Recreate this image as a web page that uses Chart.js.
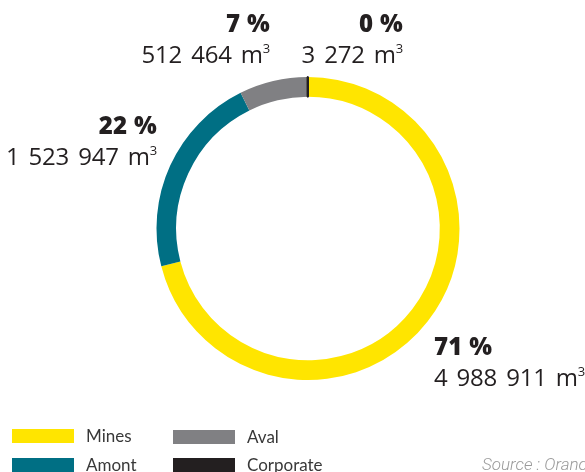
<!DOCTYPE html>
<html>
<head>
<meta charset="utf-8">
<script src="https://cdn.jsdelivr.net/npm/chart.js@4"></script>
<style>
  html, body { margin: 0; padding: 0; background: #ffffff; }
  #wrap { position: relative; width: 585px; height: 472px; overflow: hidden; }
  #c { position: absolute; left: 0; top: 0; }
  .lbl { position: absolute; color: #231F20; font-family: "Open Sans", sans-serif; white-space: nowrap; }
  .pct { font-weight: 800; font-size: 24px; line-height: 26px; letter-spacing: 0.3px; }
  .val { font-weight: 500; font-size: 24px; line-height: 26px; margin-top: 5px; word-spacing: 3px; letter-spacing: -0.2px; }
  .val sup { font-size: 13px; vertical-align: 10px; line-height: 0; }
  .leg { position: absolute; font-family: Lato, sans-serif; font-weight: 400; font-size: 17px; line-height: 20px; color: #383838; white-space: nowrap; }
  .sw { position: absolute; width: 62px; height: 14px; }
  #src { position: absolute; left: 482px; top: 454px; font-family: Roboto, sans-serif; font-weight: 300; font-style: italic; font-size: 17px; line-height: 20px; color: #9a9a9a; white-space: nowrap; }
</style>
</head>
<body>
<div id="wrap">
  <canvas id="c" width="585" height="472"></canvas>
</div>
<script>
const categories = ['Mines', 'Amont', 'Aval', 'Corporate'];
const volumes = [4988911, 1523947, 512464, 3272];
const colors = ['#FFE500', '#006F84', '#808083', '#231F20'];
const unit = 'm';
const sourceText = 'Source : Orano';

const total = volumes.reduce((a, b) => a + b, 0);
const fmt = v => String(v).replace(/\B(?=(\d{3})+(?!\d))/g, ' ');

new Chart(document.getElementById('c'), {
  type: 'doughnut',
  data: {
    labels: categories,
    datasets: [{
      data: volumes,
      backgroundColor: colors,
      borderColor: colors,
      borderWidth: [0, 0, 0, 2],
      hoverOffset: 0
    }]
  },
  options: {
    responsive: false,
    animation: false,
    cutout: '87%',
    rotation: 0,
    layout: { padding: { left: 155, right: 124, top: 76, bottom: 91 } },
    plugins: { legend: { display: false }, tooltip: { enabled: false } }
  }
});

const wrap = document.getElementById('wrap');
const labelPlaces = [
  { side: 'left',  x: 434, y: 333 },   // Mines
  { side: 'right', x: 157, y: 112 },   // Amont
  { side: 'right', x: 270, y: 10 },    // Aval
  { side: 'right', x: 403, y: 10 }     // Corporate
];
categories.forEach((cat, i) => {
  const p = labelPlaces[i];
  const d = document.createElement('div');
  d.className = 'lbl';
  d.style.top = p.y + 'px';
  d.style.textAlign = p.side;
  if (p.side === 'left') d.style.left = p.x + 'px';
  else d.style.right = (585 - p.x) + 'px';
  const pct = Math.round(volumes[i] / total * 100);
  d.innerHTML = '<div class="pct">' + pct + ' %</div><div class="val">' + fmt(volumes[i]) + ' ' + unit + '<sup>3</sup></div>';
  wrap.appendChild(d);
});

const legPlaces = [
  { x: 12, y: 429 }, { x: 12, y: 458 }, { x: 173, y: 430 }, { x: 173, y: 458 }
];
categories.forEach((cat, i) => {
  const p = legPlaces[i];
  const s = document.createElement('div');
  s.className = 'sw';
  s.style.left = p.x + 'px'; s.style.top = p.y + 'px'; s.style.background = colors[i];
  wrap.appendChild(s);
  const t = document.createElement('div');
  t.className = 'leg';
  t.style.left = (p.x + 74) + 'px'; t.style.top = (p.y - 3) + 'px';
  t.textContent = cat;
  wrap.appendChild(t);
});

const src = document.createElement('div');
src.id = 'src';
src.textContent = sourceText;
wrap.appendChild(src);
</script>
</body>
</html>
